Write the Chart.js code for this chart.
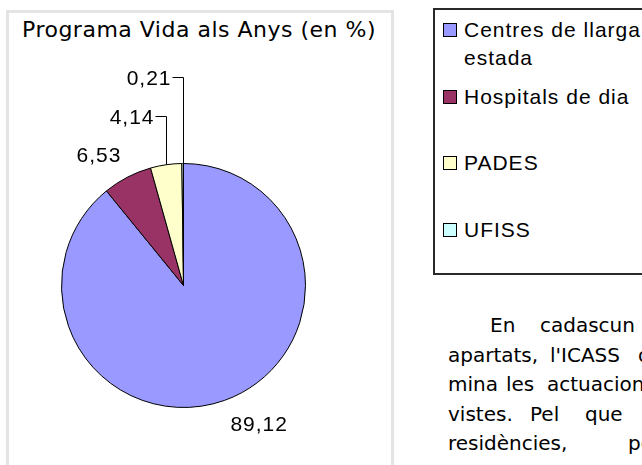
<!DOCTYPE html>
<html>
<head>
<meta charset="utf-8">
<script src="https://cdn.jsdelivr.net/npm/chart.js@4/dist/chart.umd.min.js"></script>
<style>
  html, body { margin: 0; padding: 0; background: #fff; }
  body { width: 642px; height: 465px; overflow: hidden; position: relative; }
  #frame {
    position: absolute; left: 6px; top: 10px; width: 388px; height: 480px;
    border: 3px solid #e4e4e4; box-sizing: border-box;
  }
  #title {
    position: absolute; left: 0; top: 19px; width: 398px; text-align: center;
    font: 22px/22px "DejaVu Sans", Tahoma, sans-serif; letter-spacing: 0.5px; color: #000;
  }
  #chart-box { position: absolute; left: 0; top: 0; width: 367px; height: 465px; }
  #legend {
    position: absolute; left: 433px; top: 8px; width: 240px; height: 267px;
    border: 2px solid #2a2a2a; box-sizing: border-box;
  }
  .legend-swatch {
    position: absolute; left: 8px; width: 14px; height: 14px;
    border: 1px solid #000; box-sizing: border-box;
  }
  .legend-text {
    position: absolute; left: 29px; width: 190px;
    font: 21px/28px "Liberation Sans", Arial, sans-serif; letter-spacing: 1px; color: #000;
  }
  .para {
    position: absolute; white-space: nowrap;
    font: 20px/29px "DejaVu Sans", Tahoma, sans-serif; color: #000;
  }
</style>
</head>
<body>
<div id="frame"></div>
<div id="title">Programa Vida als Anys (en %)</div>
<div id="chart-box"><canvas id="pie"></canvas></div>
<div id="legend"></div>
<div id="text"></div>

<script>
(function () {
  'use strict';

  var LABELS = ['Centres de llarga estada', 'Hospitals de dia', 'PADES', 'UFISS'];
  var VALUES = [89.12, 6.53, 4.14, 0.21];
  var COLORS = ['#9999ff', '#993366', '#ffffcc', '#ccffff'];

  // slices below this share get a stacked label with a leader line
  var SMALL = 5;

  // body text beside the chart (cut by the page edge, justified lines)
  var PARAGRAPH = [
    { top: 311, words: [['En', 490], ['cadascun', 540]] },
    { top: 341, words: [['apartats,', 448], ["l'ICASS", 550], ['de', 638]] },
    { top: 370, words: [['mina', 448], ['les', 506], ['actuacions', 547]] },
    { top: 400, words: [['vistes.', 448], ['Pel', 530], ['que', 585]] },
    { top: 429, words: [['residències,', 448], ['pe', 628]] }
  ];

  function fmt(v) {
    return v.toFixed(2).replace('.', ',');
  }

  function buildLegend() {
    var box = document.getElementById('legend');
    for (var i = 0; i < LABELS.length; i++) {
      var base = 27 + i * 66.5; // text baseline inside the box
      var sw = document.createElement('div');
      sw.className = 'legend-swatch';
      sw.style.top = (base - 14) + 'px';
      sw.style.background = COLORS[i];
      box.appendChild(sw);

      var tx = document.createElement('div');
      tx.className = 'legend-text';
      tx.style.top = (base - 21) + 'px';
      tx.textContent = LABELS[i];
      box.appendChild(tx);
    }
  }

  function buildText() {
    var host = document.getElementById('text');
    PARAGRAPH.forEach(function (line) {
      line.words.forEach(function (w) {
        var el = document.createElement('div');
        el.className = 'para';
        el.style.top = line.top + 'px';
        el.style.left = w[1] + 'px';
        el.textContent = w[0];
        host.appendChild(el);
      });
    });
  }

  var pieLabels = {
    id: 'pieLabels',
    afterDatasetsDraw: function (chart) {
      var ctx = chart.ctx;
      var meta = chart.getDatasetMeta(0);
      var stack = 0;
      ctx.save();
      ctx.font = '21px "Liberation Sans", Arial, sans-serif';
      ctx.letterSpacing = '1px';
      ctx.fillStyle = '#000';
      ctx.strokeStyle = '#000';
      ctx.lineWidth = 1;
      ctx.textBaseline = 'alphabetic';

      meta.data.forEach(function (arc, i) {
        var p = arc.getProps(['x', 'y', 'startAngle', 'endAngle', 'outerRadius'], true);
        var mid = (p.startAngle + p.endAngle) / 2;
        var cos = Math.cos(mid);
        var sin = Math.sin(mid);
        var text = fmt(VALUES[i]);
        var w = ctx.measureText(text).width;

        if (VALUES[i] >= SMALL) {
          var d = p.outerRadius + 15;
          var cx = p.x + cos * d + Math.sign(cos) * w / 2;
          var cy = p.y + sin * d + Math.sign(sin) * 9;
          ctx.textAlign = 'center';
          ctx.fillText(text, cx + 1, cy + 7.5);
        } else {
          var rx = p.x + cos * p.outerRadius;
          var ry = p.y + sin * p.outerRadius;
          var ey = Math.round(p.y - p.outerRadius - 48 - stack * 39) + 0.5;
          var ex = Math.round(rx) + 0.5;
          ctx.beginPath();
          ctx.moveTo(ex, ry);
          ctx.lineTo(ex, ey);
          ctx.lineTo(ex - 11, ey);
          ctx.stroke();
          ctx.textAlign = 'right';
          ctx.fillText(text, ex - 12, ey + 7.5);
          stack++;
        }
      });
      ctx.restore();
    }
  };

  buildLegend();
  buildText();

  new Chart(document.getElementById('pie'), {
    type: 'pie',
    data: {
      labels: LABELS,
      datasets: [{
        data: VALUES,
        backgroundColor: COLORS,
        borderColor: '#000',
        borderWidth: 1,
        radius: 122
      }]
    },
    options: {
      responsive: true,
      maintainAspectRatio: false,
      animation: false,
      layout: { padding: { top: 106, left: 0, right: 0, bottom: 0 } },
      plugins: {
        legend: { display: false },
        tooltip: { enabled: false },
        title: { display: false }
      }
    },
    plugins: [pieLabels]
  });
})();
</script>
</body>
</html>
